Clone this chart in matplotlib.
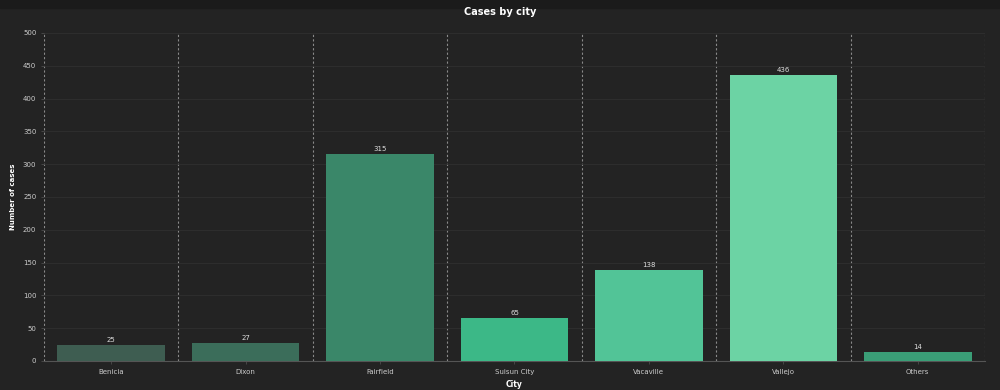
import numpy as np
import matplotlib.pyplot as plt
from matplotlib.patches import Rectangle

cities = ["Benicia", "Dixon", "Fairfield", "Suisun City", "Vacaville", "Vallejo", "Others"]
cases = [25, 27, 315, 65, 138, 436, 14]
colors = ["#3e5d51", "#3b6d5a", "#3a8769", "#3cb887", "#52c497", "#6cd3a4", "#3a9e77"]

bg = "#232323"
fig = plt.figure(figsize=(10, 3.9), dpi=100, facecolor=bg)
# darker strip at the very top
fig.patches.append(Rectangle((0, 0.98), 1, 0.02, transform=fig.transFigure,
                             color="#1b1b1b", zorder=0))

ax = fig.add_axes([0.044, 0.0744, 0.941, 0.841], facecolor=bg)
x = np.arange(len(cities))
bars = ax.bar(x, cases, width=0.8, color=colors, zorder=3)

for xi, v in zip(x, cases):
    ax.text(xi, v + 3, str(v), ha="center", va="bottom", color="#dddddd", fontsize=5)

# dashed separators between categories
for b in np.arange(-0.5, len(cities), 1.0):
    ax.axvline(b, color="#8a8a8a", lw=0.8, ls=(0, (2, 2)), zorder=1)

ax.set_xlim(-0.5, len(cities) - 0.5)
ax.set_ylim(0, 500)
ax.set_yticks(np.arange(0, 501, 50))
ax.yaxis.grid(True, color="#2f2f2f", lw=0.6, zorder=0)
ax.set_xticks(x)
ax.set_xticklabels(cities)
ax.tick_params(labelsize=5, length=2, width=0.5, colors="#555555", labelcolor="#cccccc")

for s in ["top", "right", "left"]:
    ax.spines[s].set_visible(False)
ax.spines["bottom"].set_color("#555555")
ax.spines["bottom"].set_linewidth(0.8)

ax.set_xlabel("City", color="white", fontsize=5.5, fontweight="bold", labelpad=4)
ax.set_ylabel("Number of cases", color="white", fontsize=5, fontweight="bold", labelpad=5)
fig.text(0.5, 0.968, "Cases by city", ha="center", va="center", color="white",
         fontsize=7, fontweight="bold")

fig.savefig("out.png", dpi=100, facecolor=bg)
